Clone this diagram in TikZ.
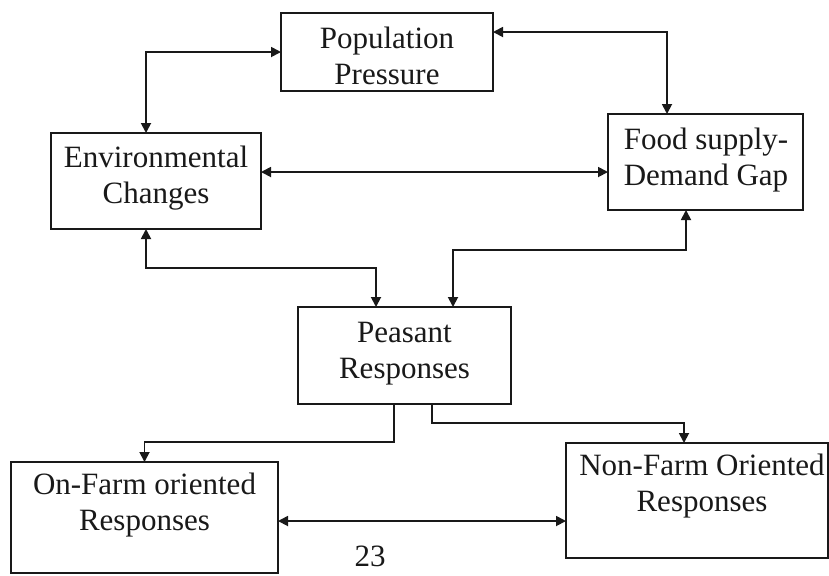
\documentclass[tikz,border=0pt]{standalone}
\usepackage{fontspec}
\setmainfont{Liberation Serif}
\usetikzlibrary{calc,arrows.meta}
\tikzset{
  box/.style={draw=black!90, line width=0.9pt, inner sep=0pt, outer sep=0pt, fill=white},
  txt/.style={align=center, inner sep=0pt, font=\fontsize{15.5}{18}\selectfont, text=black!90},
  conn/.style={draw=black!90, line width=0.9pt},
  tip/.tip={Triangle[length=5pt,width=5pt]},
  both/.style={conn, tip-tip},
  onearr/.style={conn, -tip}
}
\begin{document}
\begin{tikzpicture}[x=0.5pt, y=-0.5pt]
\clip (0,0) rectangle (829,575);
\fill[white] (0,0) rectangle (829,575);
% boxes
\node[box, minimum width=106pt, minimum height=39pt] (pop) at (387,52) {};
\node[box, minimum width=105pt, minimum height=48pt] (env) at (156,181) {};
\node[box, minimum width=97.5pt, minimum height=48pt] (food) at (705.5,162) {};
\node[box, minimum width=106.5pt, minimum height=48.5pt] (peas) at (404.5,355.5) {};
\node[box, minimum width=133.5pt, minimum height=55.5pt] (onfarm) at (144.5,517.5) {};
\node[box, minimum width=131pt, minimum height=57.5pt] (nonfarm) at (697,500.5) {};
% texts
\node[txt] (poptxt) at (387,56) {Population\\Pressure};
\node[txt] (envtxt) at (156,178) {Environmental\\Changes};
\node[txt] (foodtxt) at (706,160) {Food supply-\\Demand Gap};
\node[txt] (peastxt) at (404.5,354) {Peasant\\Responses};
\node[txt] (onfarmtxt) at (144.5,505.5) {On-Farm oriented\\Responses};
\node[txt] (nonfarmtxt) at (702,486.5) {Non-Farm Oriented\\Responses};
\node[txt, anchor=base] (pagenum) at (370,566) {23};
% connectors
\coordinate (envN) at ($(env.north)+(-10,0)$);
\draw[both] (envN) |- (pop.west);
\coordinate (popE) at ($(pop.east)+(0,-20)$);
\coordinate (foodN) at ($(food.north)+(-38.5,0)$);
\draw[both] (popE) -| (foodN);
\coordinate (envE) at ($(env.east)+(0,-9)$);
\draw[both] (envE) -- (envE -| food.west);
\coordinate (envS) at ($(env.south)+(-10,0)$);
\coordinate (peasNa) at ($(peas.north)+(-28.5,0)$);
\draw[both] (envS) -- ++(0,39) -| (peasNa);
\coordinate (foodS) at ($(food.south)+(-19.5,0)$);
\coordinate (peasNb) at ($(peas.north)+(48.5,0)$);
\draw[both] (foodS) -- ++(0,40) -| (peasNb);
\coordinate (peasSa) at ($(peas.south)+(-10.5,0)$);
\draw[onearr] (peasSa) -- ++(0,38) -| (onfarm.north);
\coordinate (peasSb) at ($(peas.south)+(27.5,0)$);
\coordinate (nfN) at ($(nonfarm.north)+(-13,0)$);
\draw[onearr] (peasSb) -- ++(0,19) -| (nfN);
\coordinate (onE) at ($(onfarm.east)+(0,3.5)$);
\draw[both] (onE) -- (onE -| nonfarm.west);
\end{tikzpicture}
\end{document}
